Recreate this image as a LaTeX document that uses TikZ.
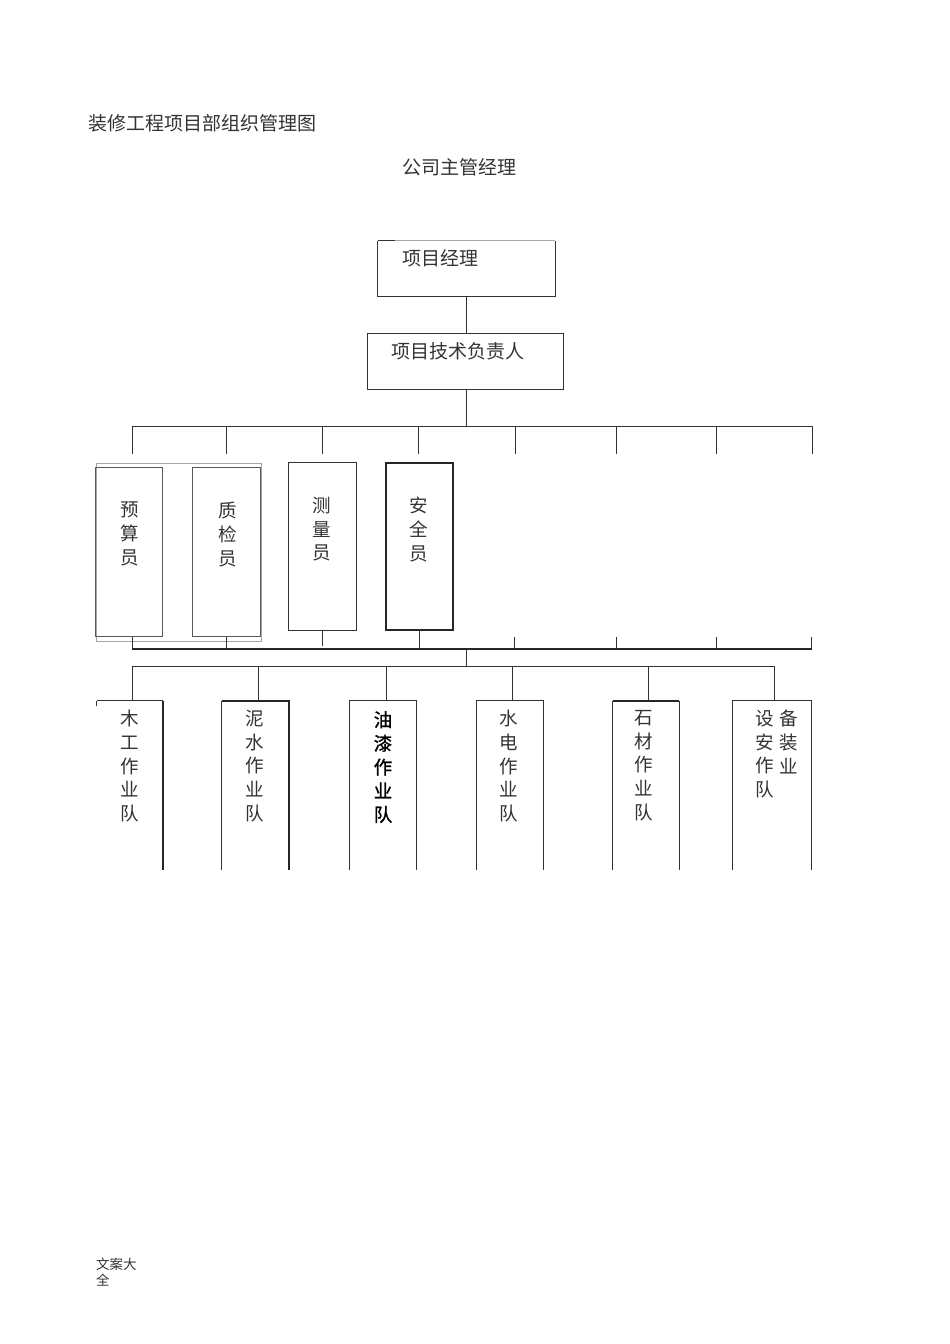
\documentclass[tikz,border=0pt]{standalone}
\usepackage{fontspec}
\setmainfont{Noto Sans CJK SC}
\begin{document}
\begin{tikzpicture}[x=1pt,y=-1pt,
  txt/.style={font=\fontsize{19}{24}\selectfont, text=black!80, inner sep=0pt},
  vtxt/.style={txt, align=center, anchor=north, font=\fontsize{18.5}{23.7}\selectfont},
  ln/.style={line width=0.9pt, draw=black!80},
  thk/.style={line width=1.8pt, draw=black!85},
  gln/.style={line width=0.9pt, draw=black!35},
  bx/.style={inner sep=0pt, draw=none}]
\useasboundingbox[fill=white] (0,0) rectangle (950,1344);

% titles
\node[txt,anchor=west] (title) at (88,123) {装修工程项目部组织管理图};
\node[txt] (boss) at (459.5,167) {公司主管经理};

% project manager
\node[bx, minimum width=177pt, minimum height=55pt] (pm) at (466.5,268.5) {};
\draw[ln] (pm.north west) -- (pm.south west) -- (pm.south east) -- (pm.north east);
\draw[gln] (pm.north west) -- (pm.north east);
\draw[ln] (pm.north west) -- ++(17,0);
\node[txt,anchor=west] (pmt) at (402,258) {项目经理};

% technical lead
\node[bx, minimum width=195pt, minimum height=55pt] (tech) at (465.5,361.5) {};
\draw[ln] (tech.north west) rectangle (tech.south east);
\node[txt] (techt) at (458,351) {项目技术负责人};

\draw[ln] (466,296) coordinate (pmb) -- (466,334) coordinate (tt);
\draw[ln] (466,389) coordinate (tb) -- (466,426) coordinate (bus1c);

% top bus
\coordinate (b1l) at (132,426);
\coordinate (b1r) at (812,426);
\draw[ln] (b1l) -- (b1r);
\foreach \x in {132,226,322,418,515,616,716,812}
  \draw[ln] (\x,426) -- (\x,454);

% staff boxes
\draw[gln] (96,463) rectangle (261,641);
\node[bx, minimum width=66pt, minimum height=168pt] (ys) at (129,552) {};
\node[bx, minimum width=67pt, minimum height=168pt] (zj) at (226.5,552) {};
\node[bx, minimum width=67pt, minimum height=167pt] (cl) at (322.5,546.5) {};
\node[bx, minimum width=67pt, minimum height=167pt] (aq) at (419.5,546.5) {};
\draw[ln, draw=black!65] (ys.north west) rectangle (ys.south east);
\draw[ln, draw=black!65] (zj.north west) rectangle (zj.south east);
\draw[ln, line width=1.2pt] (cl.north west) rectangle (cl.south east);
\draw[thk] (aq.north west) rectangle (aq.south east);
\node[vtxt] (yst) at (130,502) {预\\算\\员};
\node[vtxt] (zjt) at (228,502) {质\\检\\员};
\node[vtxt] (clt) at (322,497) {测\\量\\员};
\node[vtxt] (aqt) at (419,497) {安\\全\\员};

% lower bus
\coordinate (b2l) at (132,649);
\coordinate (b2r) at (812,649);
\draw[thk] (b2l) -- (b2r);
\foreach \x in {132,226,514,616,716,811}
  \draw[ln] (\x,637) -- (\x,649);
\draw[ln] (cl.south) -- ([yshift=3pt]cl.south |- b2l);
\draw[ln] (aq.south) -- (aq.south |- b2l);

\draw[ln] (466,649) coordinate (b2c) -- (466,666) coordinate (b3c);
\coordinate (b3l) at (132,666);
\coordinate (b3r) at (774,666);
\draw[ln] (b3l) -- (b3r);

% team boxes
\node[bx, minimum width=66pt, minimum height=169pt] (mg) at (130,785.5) {};
\node[bx, minimum width=67pt, minimum height=169pt] (ns) at (255.5,785.5) {};
\node[bx, minimum width=66pt, minimum height=169pt] (yq) at (383,785.5) {};
\node[bx, minimum width=66pt, minimum height=169pt] (sd) at (510,785.5) {};
\node[bx, minimum width=66pt, minimum height=169pt] (sc) at (646,785.5) {};
\node[bx, minimum width=78pt, minimum height=169pt] (sb) at (772,785.5) {};

\foreach \x in {132,258,386,512,648,774}
  \draw[ln] (\x,666) -- (\x,701);

% edges of team boxes (open at the bottom)
\draw[ln] (mg.north west) -- (mg.north east);
\draw[ln] (mg.north west) -- ++(0,5);
\draw[thk] (mg.north east) -- (mg.south east);

\draw[thk] (ns.north west) -- (ns.north east) -- (ns.south east);
\draw[ln] (ns.north west) -- (ns.south west);

\draw[ln] (yq.south west) -- (yq.north west) -- (yq.north east) -- (yq.south east);
\draw[ln] (sd.south west) -- (sd.north west) -- (sd.north east) -- (sd.south east);
\draw[ln] (sc.south west) -- (sc.north west);
\draw[ln] (sc.north east) -- (sc.south east);
\draw[thk] (sc.north west) -- (sc.north east);
\draw[ln] (sb.south west) -- (sb.north west) -- (sb.north east) -- (sb.south east);

\node[vtxt] (mgt) at (130,710) {木\\工\\作\\业\\队};
\node[vtxt] (nst) at (255,710) {泥\\水\\作\\业\\队};
\node[vtxt, text=black, font=\fontsize{18.5}{23.7}\selectfont\addfontfeatures{FakeBold=1.2}] (yqt) at (383,711) {油\\漆\\作\\业\\队};
\node[vtxt] (sdt) at (509,710) {水\\电\\作\\业\\队};
\node[vtxt] (sct) at (644,710) {石\\材\\作\\业\\队};
\node[vtxt] (sbt1) at (765,710) {设\\安\\作\\队};
\node[vtxt] (sbt2) at (789,710) {备\\装\\业};

% footer
\node[txt, anchor=north west, align=left, font=\fontsize{13.5}{16}\selectfont] (foot) at (96,1258) {文案大\\全};
\end{tikzpicture}
\end{document}
